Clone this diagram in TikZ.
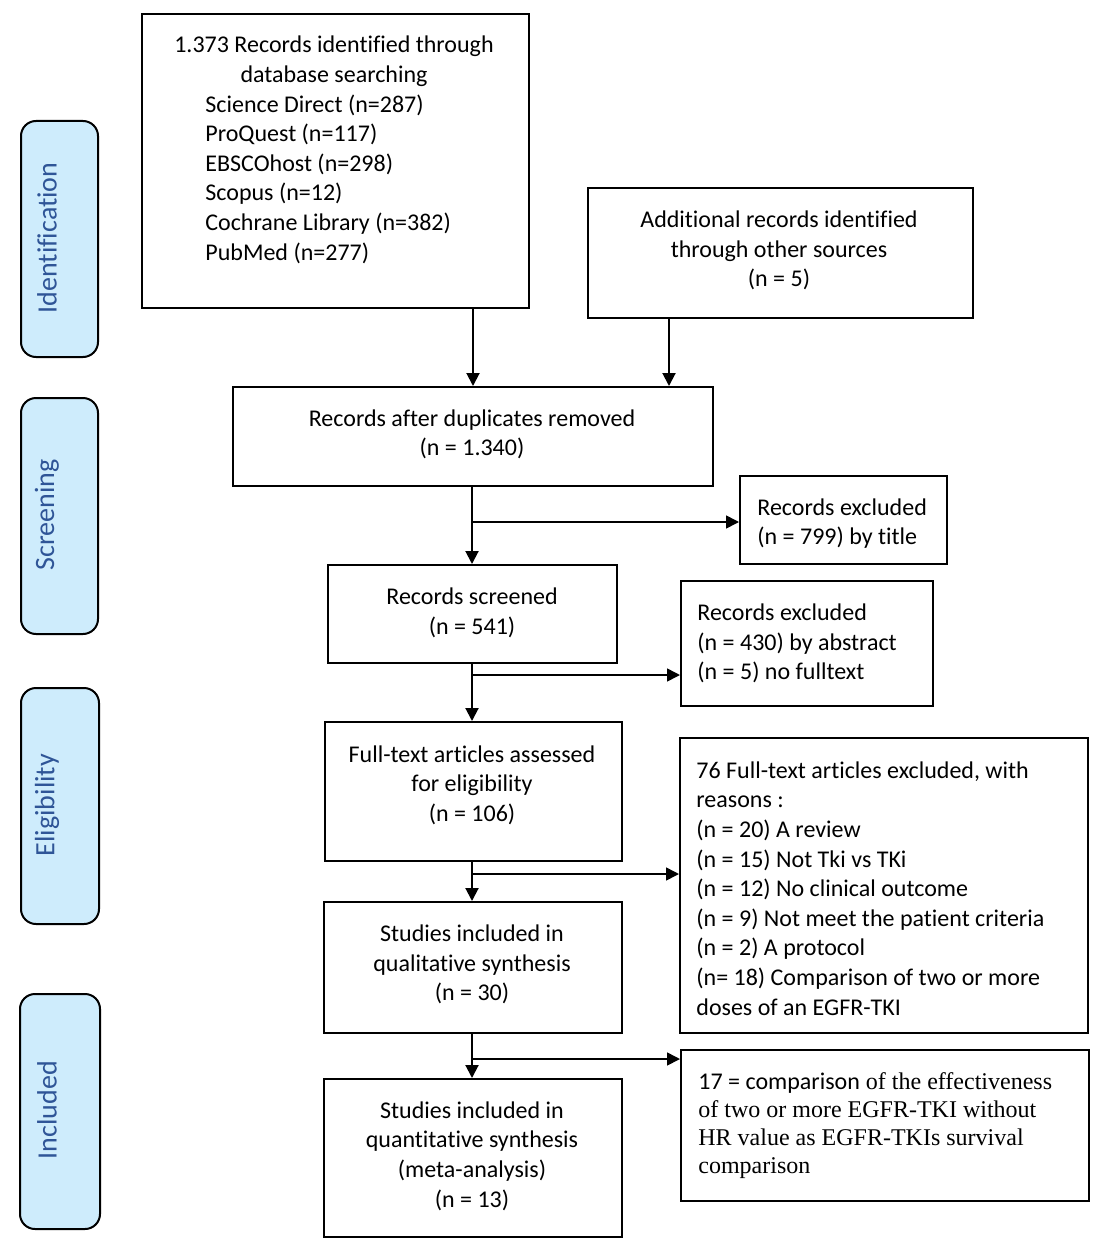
\documentclass[tikz,border=0pt]{standalone}
\usepackage{fontspec}
\setmainfont{Carlito}[Ligatures=NoCommon]
\newfontfamily\tnr{Liberation Serif}
\usetikzlibrary{arrows.meta}
\definecolor{sidefill}{RGB}{206,236,252}
\definecolor{sidetext}{RGB}{47,85,151}
\begin{document}
\begin{tikzpicture}[x=0.5pt,y=-0.5pt,
  box/.style={draw, line width=1pt, inner sep=0pt, anchor=north west},
  side/.style={draw, line width=1pt, fill=sidefill, rounded corners=7.5pt, inner sep=0pt, anchor=north west},
  sidelbl/.style={text=sidetext, font=\fontsize{14}{16}\selectfont, rotate=90, inner sep=0pt},
  txt/.style={inner sep=0pt, font=\fontsize{12}{14.8}\selectfont},
  ttxt/.style={inner sep=0pt, font=\fontsize{12}{14}\selectfont\tnr},
  arr/.style={line width=1pt, -{Triangle[length=6.5pt,width=6.5pt]}},
  barr/.style={line width=0.8pt, -{Triangle[length=6.5pt,width=6.5pt]}}]
\useasboundingbox (0,0) rectangle (1100,1247);

% side labels
\node[side, minimum width=38.5pt, minimum height=118pt] (s1) at (20,120) {};
\node[side, minimum width=38.5pt, minimum height=118pt] (s2) at (20,397) {};
\node[side, minimum width=39pt, minimum height=118pt] (s3) at (20,687) {};
\node[side, minimum width=40pt, minimum height=117.5pt] (s4) at (19,993) {};
\node[sidelbl] (l1) at (47,238) {Identification};
\node[sidelbl] (l2) at (47,515) {Screening};
\node[sidelbl] (l3) at (47,805) {Eligibility};
\node[sidelbl] (l4) at (47,1110) {Included};

% boxes
\node[box, minimum width=193.5pt, minimum height=147pt] (b1) at (141,13) {};
\node[box, minimum width=192.5pt, minimum height=65pt] (b2) at (587,187) {};
\node[box, minimum width=240pt, minimum height=49.5pt] (b3) at (232,386) {};
\node[box, minimum width=103.5pt, minimum height=44pt] (b4) at (739,475) {};
\node[box, minimum width=144.5pt, minimum height=49pt] (b5) at (327,564) {};
\node[box, minimum width=126pt, minimum height=62.5pt] (b6) at (680,580) {};
\node[box, minimum width=148.5pt, minimum height=69.5pt] (b7) at (324,721) {};
\node[box, minimum width=204pt, minimum height=147.5pt] (b8) at (679,737) {};
\node[box, minimum width=149pt, minimum height=65.5pt] (b9) at (323,901) {};
\node[box, minimum width=204pt, minimum height=75.5pt] (b10) at (680,1049) {};
\node[box, minimum width=149pt, minimum height=79pt] (b11) at (323,1078) {};

% texts
\node[txt, align=center] (t1a) at (334,61.5) {1.373 Records identified through\\database searching};
\node[txt, align=left, anchor=west] (t1b) at (205,179) {Science Direct (n=287)\\ProQuest (n=117)\\EBSCOhost (n=298)\\Scopus (n=12)\\Cochrane Library (n=382)\\PubMed (n=277)};
\node[txt, align=center] (t2) at (779,250.5) {Additional records identified\\through other sources\\(n = 5)};
\node[txt, align=center] (t3) at (472,434.5) {Records after duplicates removed\\(n = 1.340)};
\node[txt, align=left, anchor=west] (t4) at (757,523.5) {Records excluded\\(n = 799) by title};
\node[txt, align=center] (t5) at (472,613) {Records screened\\(n = 541)};
\node[txt, align=left, anchor=west] (t6) at (697,643.5) {Records excluded\\(n = 430) by abstract\\(n = 5) no fulltext};
\node[txt, align=center] (t7) at (472,785) {Full-text articles assessed\\for eligibility\\(n = 106)};
\node[txt, align=left, anchor=west] (t8) at (696,888.5) {76 Full-text articles excluded, with\\reasons :\\(n = 20) A review\\(n = 15) Not Tki vs TKi\\(n = 12) No clinical outcome\\(n = 9) Not meet the patient criteria\\(n = 2) A protocol\\(n= 18) Comparison of two or more\\doses of an EGFR-TKI};
\node[ttxt, align=left, anchor=west] (t10) at (698,1126) {{\fontsize{12}{14}\selectfont\rmfamily 17 = comparison} of the effectiveness\\of two or more EGFR-TKI without\\HR value as EGFR-TKIs survival\\comparison};
\node[txt, align=center] (t9) at (472,964.5) {Studies included in\\qualitative synthesis\\(n = 30)};
\node[txt, align=center] (t11) at (472,1156) {Studies included in\\quantitative synthesis\\(meta-analysis)\\(n = 13)};

% connectors
\coordinate (cA) at (473,0);
\coordinate (cB) at (669,0);
\coordinate (cM) at (472,0);
\draw[arr] (b1.south -| cA) -- (b3.north -| cA);
\draw[arr] (b2.south -| cB) -- (b3.north -| cB);
\draw[arr] (b3.south -| cM) -- (b5.north -| cM);
\coordinate (j1) at (472,522);
\draw[barr] (j1) -- (j1 -| b4.west);
\draw[arr] (b5.south -| cM) -- (b7.north -| cM);
\coordinate (j2) at (472,675);
\draw[barr] (j2) -- (j2 -| b6.west);
\draw[arr] (b7.south -| cM) -- (b9.north -| cM);
\coordinate (j3) at (472,874);
\draw[barr] (j3) -- (j3 -| b8.west);
\draw[arr] (b9.south -| cM) -- (b11.north -| cM);
\coordinate (j4) at (472,1059);
\draw[barr] (j4) -- (j4 -| b10.west);
\end{tikzpicture}
\end{document}
